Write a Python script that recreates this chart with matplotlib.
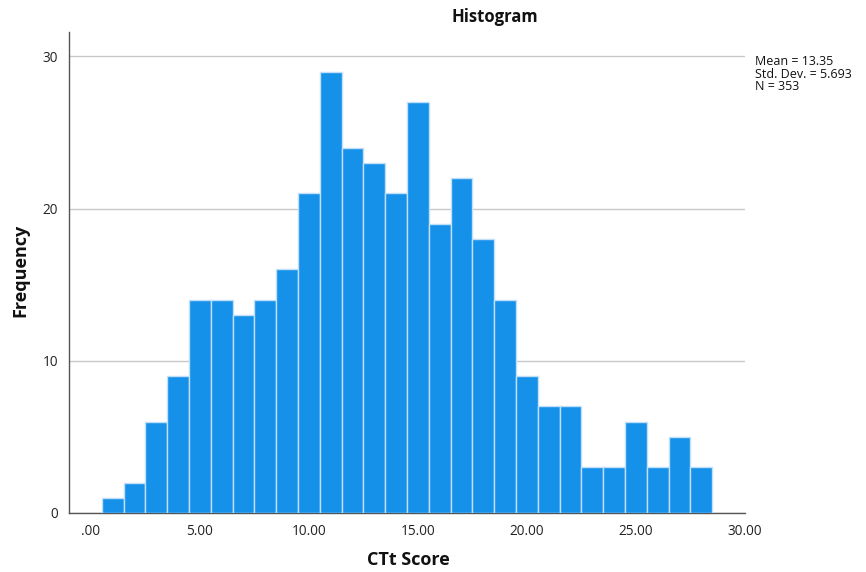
import matplotlib
matplotlib.use("Agg")
import matplotlib.pyplot as plt
import numpy as np

plt.rcParams['font.family'] = ['Open Sans', 'DejaVu Sans']

bin_edges = np.arange(0.5, 29.0, 1.0)  # 0.5 .. 28.5
counts = [1, 2, 6, 9, 14, 14, 13, 14, 16, 21, 29, 24, 23, 21, 27, 19, 22, 18,
          14, 9, 7, 7, 3, 3, 6, 3, 5, 3]
x_ticks = [0, 5, 10, 15, 20, 25, 30]
x_tick_labels = ['.00', '5.00', '10.00', '15.00', '20.00', '25.00', '30.00']
y_ticks = [0, 10, 20, 30]
stats_text = "Mean = 13.35\nStd. Dev. = 5.693\nN = 353"

fig = plt.figure(figsize=(8.66, 5.72), dpi=100)
ax = fig.add_axes([69/866, 1-513/572, (745-69)/866, (513-32)/572])

ax.bar(bin_edges[:-1], counts, width=np.diff(bin_edges), align='edge',
       color='#1591EA', edgecolor='#BFE0F8', linewidth=1.0, zorder=3)

ax.set_xlim(-1.0, 30.0)
ax.set_ylim(0, 31.6)
ax.set_xticks(x_ticks)
ax.set_xticklabels(x_tick_labels)
ax.set_yticks(y_ticks)
ax.yaxis.grid(True, color='#C8C8C8', linewidth=1.0, zorder=0)
ax.tick_params(axis='both', length=0, labelsize=9.8, colors='#222222', pad=8)
for s in ['top', 'right']:
    ax.spines[s].set_visible(False)
for s in ['left', 'bottom']:
    ax.spines[s].set_color('#555555')
    ax.spines[s].set_linewidth(1.0)

fig.text(495/866, 1-17/572, 'Histogram', ha='center', va='center',
         fontsize=12, fontweight='bold', color='#111111')
fig.text(20/866, 1-270/572, 'Frequency', ha='center', va='center',
         rotation=90, fontsize=13, fontweight='bold', color='#111111')
fig.text(408/866, 1-560/572, 'CTt Score', ha='center', va='center',
         fontsize=13, fontweight='bold', color='#111111')
fig.text(755/866, 1-55/572, stats_text, ha='left', va='top',
         fontsize=9, color='#111111', linespacing=0.95)

fig.savefig('out.png', dpi=100)
